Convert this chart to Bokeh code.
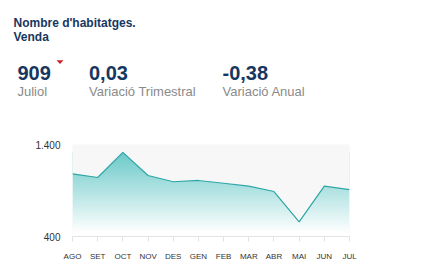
import numpy as np
from bokeh.plotting import figure
from bokeh.layouts import column, row
from bokeh.models import Range1d, FixedTicker
from bokeh.core.properties import value
from bokeh.embed import file_html
from bokeh.resources import INLINE

# ---- data ----
months = ["AGO", "SET", "OCT", "NOV", "DES", "GEN", "FEB", "MAR", "ABR", "MAI", "JUN", "JUL"]
values = [1081, 1041, 1315, 1063, 995, 1009, 979, 947, 889, 558, 947, 909]
y_ticks = [400, 1400]
y_tick_labels = ["400", "1.400"]
title_lines = ["Nombre d'habitatges.", "Venda"]
kpi_values = ["909", "0,03", "-0,38"]
kpi_labels = ["Juliol", "Variació Trimestral", "Variació Anual"]

W, H = 437, 278
HEAD = 110

# ---------------- header ----------------
h = figure(width=W, height=HEAD, output_backend="svg", toolbar_location=None,
           x_range=Range1d(0, W), y_range=Range1d(HEAD, 0),
           min_border=0, min_border_left=0, min_border_right=0,
           min_border_top=0, min_border_bottom=0,
           x_axis_type=None, y_axis_type=None)
h.outline_line_color = None
h.grid.grid_line_color = None
h.background_fill_color = "white"
h.border_fill_color = "white"

navy = "#17375e"
font = value("Liberation Sans")
h.text(x=[13, 13], y=[22.5, 36.5], text=title_lines, text_font=font,
       text_font_size="12px", text_font_style="bold", text_color=navy,
       text_baseline="alphabetic", text_align="left")

kx = [17, 88.5, 222]
h.text(x=kx, y=[72] * 3, text=kpi_values, text_font=font, text_font_size="20px",
       text_font_style="bold", text_color=navy, text_baseline="alphabetic", text_align="left")
h.text(x=kx, y=[90.5] * 3, text=kpi_labels, text_font=font, text_font_size="13px",
       text_color="#8a8a8a", text_baseline="alphabetic", text_align="left")
h.patch(x=[56, 63, 59.5], y=[59.7, 59.7, 63.5], fill_color="#c8202c", line_color=None)

# ---------------- chart ----------------
FL, FR, FT, FB = 72, 88, 144 - HEAD, 42
x = list(range(len(months)))

p = figure(width=W, height=H - HEAD, output_backend="svg", toolbar_location=None,
           x_range=Range1d(0, len(months) - 1), y_range=Range1d(y_ticks[0], y_ticks[-1]),
           min_border_left=FL, min_border_right=FR, min_border_top=FT, min_border_bottom=FB)
p.background_fill_color = "#f7f7f7"
p.border_fill_color = "white"
p.outline_line_color = None

# gradient under the curve
ymax = max(values)
n = 256
ys = np.linspace(y_ticks[0], ymax, n)
white_at = 445.0
t = np.clip((ys - white_at) / (ymax - white_at), 0, 1)
top = np.array([108, 202, 202])
rgb = (255 + (top[None, :] - 255) * t[:, None]).astype(np.uint32)
img = np.empty((n, 1), dtype=np.uint32)
view = img.view(dtype=np.uint8).reshape((n, 1, 4))
view[:, 0, 0] = rgb[:, 0]
view[:, 0, 1] = rgb[:, 1]
view[:, 0, 2] = rgb[:, 2]
view[:, 0, 3] = 255
p.image_rgba(image=[img], x=0, y=y_ticks[0], dw=len(months) - 1, dh=ymax - y_ticks[0])

p.varea(x=x, y1=values, y2=[y_ticks[-1]] * len(x), fill_color="#f7f7f7")
p.line(x, values, line_color="#2ea6a6", line_width=1.2)

p.xaxis.ticker = FixedTicker(ticks=x)
p.xaxis.major_label_overrides = {i: m for i, m in enumerate(months)}
p.xaxis.axis_line_color = "#e3e3e3"
p.xaxis.major_tick_line_color = "#e3e3e3"
p.xaxis.major_tick_out = 5
p.xaxis.major_tick_in = 0
p.xaxis.minor_tick_line_color = None
p.xaxis.major_label_standoff = 10
p.xaxis.major_label_text_font = "Liberation Sans"
p.xaxis.major_label_text_font_size = "8px"
p.xaxis.major_label_text_color = "#333333"

p.yaxis.ticker = FixedTicker(ticks=y_ticks)
p.yaxis.major_label_overrides = {v: s for v, s in zip(y_ticks, y_tick_labels)}
p.yaxis.axis_line_color = None
p.yaxis.major_tick_line_color = None
p.yaxis.minor_tick_line_color = None
p.yaxis.major_tick_out = 0
p.yaxis.major_label_standoff = 12
p.yaxis.major_label_text_font = "Liberation Sans"
p.yaxis.major_label_text_font_size = "10px"
p.yaxis.major_label_text_color = "#333333"

p.xgrid.grid_line_color = None
p.ygrid.ticker = FixedTicker(ticks=y_ticks)
p.ygrid.grid_line_color = "#e6e6e6"

layout = column(row(h), p, spacing=0)
open("out.html", "w").write(file_html(layout, INLINE))
